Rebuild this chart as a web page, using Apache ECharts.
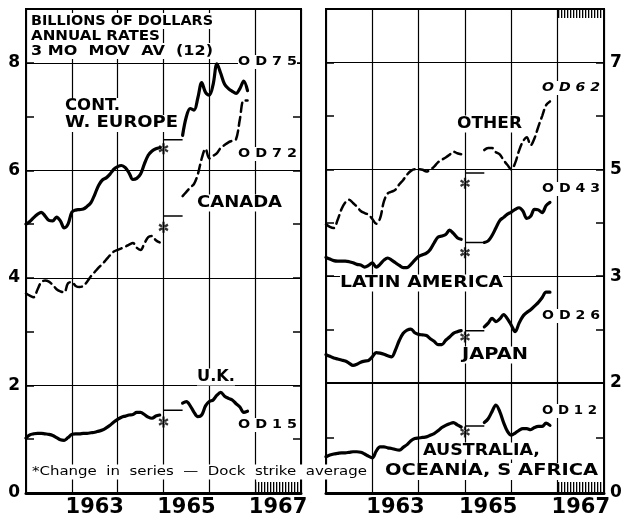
<!DOCTYPE html>
<html>
<head>
<meta charset="utf-8">
<title>Exports by area</title>
<script src="https://cdn.jsdelivr.net/npm/echarts@6/dist/echarts.min.js"></script>
<style>
  html, body { margin: 0; padding: 0; background: #fff; }
  #chart { width: 627px; height: 518px; }
</style>
</head>
<body>
<div id="chart"></div>
<script>
// billions of dollars, annual rates, 3 mo moving average
// "Pre" = monthly Jan 1962 - Dec 1964, "Post" = monthly Jun 1965 - Nov 1966
var weuropePre = [5.00, 5.05, 5.12, 5.18, 5.22, 5.15, 5.07, 5.06, 5.13, 5.06, 4.93, 5.00, 5.22, 5.26, 5.27, 5.28, 5.33, 5.40, 5.55, 5.72, 5.82, 5.86, 5.93, 6.02, 6.07, 6.09, 6.05, 5.95, 5.83, 5.85, 5.93, 6.12, 6.28, 6.36, 6.40, 6.42];
var weuropePost = [6.65, 7.00, 7.15, 7.12, 7.35, 7.63, 7.45, 7.40, 7.60, 7.98, 7.80, 7.60, 7.52, 7.47, 7.43, 7.52, 7.66, 7.48];
var canadaPre = [3.71, 3.67, 3.64, 3.78, 3.92, 3.95, 3.93, 3.87, 3.79, 3.75, 3.73, 3.90, 3.92, 3.85, 3.83, 3.85, 3.93, 4.03, 4.11, 4.19, 4.26, 4.34, 4.42, 4.49, 4.52, 4.55, 4.58, 4.62, 4.65, 4.56, 4.52, 4.64, 4.76, 4.78, 4.70, 4.66];
var canadaPost = [5.52, 5.60, 5.68, 5.75, 5.93, 6.22, 6.40, 6.22, 6.27, 6.32, 6.42, 6.47, 6.52, 6.55, 6.58, 6.95, 7.30, 7.30];
var ukPre = [1.02, 1.08, 1.10, 1.11, 1.11, 1.10, 1.09, 1.07, 1.03, 0.99, 0.98, 1.03, 1.09, 1.10, 1.10, 1.11, 1.11, 1.12, 1.13, 1.15, 1.17, 1.21, 1.26, 1.32, 1.37, 1.41, 1.43, 1.45, 1.46, 1.50, 1.50, 1.46, 1.41, 1.39, 1.43, 1.45];
var ukPost = [1.67, 1.70, 1.62, 1.50, 1.42, 1.45, 1.62, 1.70, 1.73, 1.82, 1.87, 1.80, 1.76, 1.73, 1.66, 1.60, 1.50, 1.52];
var otherPre = [3.97, 3.92, 3.90, 4.05, 4.25, 4.38, 4.43, 4.37, 4.30, 4.22, 4.18, 4.15, 4.07, 3.98, 4.08, 4.40, 4.55, 4.58, 4.62, 4.72, 4.80, 4.90, 4.97, 5.00, 5.00, 4.99, 4.96, 4.99, 5.05, 5.13, 5.18, 5.22, 5.27, 5.33, 5.30, 5.28];
var otherPost = [5.36, 5.40, 5.40, 5.32, 5.28, 5.17, 5.08, 5.00, 5.12, 5.35, 5.52, 5.60, 5.45, 5.58, 5.80, 6.00, 6.20, 6.27];
var latinPre = [3.35, 3.32, 3.29, 3.28, 3.28, 3.28, 3.27, 3.25, 3.22, 3.21, 3.17, 3.20, 3.25, 3.17, 3.22, 3.30, 3.34, 3.30, 3.25, 3.20, 3.16, 3.16, 3.22, 3.30, 3.37, 3.40, 3.43, 3.50, 3.62, 3.73, 3.75, 3.78, 3.86, 3.80, 3.72, 3.69];
var latinPost = [3.63, 3.66, 3.76, 3.90, 4.04, 4.10, 4.16, 4.20, 4.25, 4.28, 4.22, 4.08, 4.12, 4.25, 4.24, 4.19, 4.32, 4.38];
var japanPre = [1.53, 1.50, 1.47, 1.45, 1.43, 1.41, 1.37, 1.33, 1.35, 1.39, 1.41, 1.42, 1.49, 1.57, 1.56, 1.54, 1.51, 1.49, 1.62, 1.80, 1.93, 1.99, 2.01, 1.94, 1.91, 1.90, 1.89, 1.83, 1.78, 1.72, 1.72, 1.80, 1.86, 1.93, 1.96, 1.98];
var japanPost = [2.05, 2.12, 2.21, 2.15, 2.20, 2.28, 2.20, 2.08, 1.96, 2.12, 2.25, 2.32, 2.37, 2.44, 2.51, 2.60, 2.70, 2.70];
var australiaPre = [0.66, 0.69, 0.71, 0.72, 0.73, 0.73, 0.74, 0.75, 0.75, 0.74, 0.71, 0.67, 0.64, 0.76, 0.84, 0.84, 0.82, 0.81, 0.79, 0.78, 0.83, 0.88, 0.95, 0.99, 1.00, 1.01, 1.02, 1.05, 1.08, 1.13, 1.19, 1.23, 1.26, 1.28, 1.24, 1.20];
var australiaPost = [1.28, 1.35, 1.48, 1.60, 1.48, 1.28, 1.12, 1.05, 1.09, 1.14, 1.17, 1.17, 1.15, 1.19, 1.21, 1.21, 1.27, 1.23];

// order: W. Europe, Canada, U.K., Other, Latin America, Japan, Australia
var changeMarks = [6.40, 4.94, 1.32, 4.74, 3.44, 1.86, 1.11];
var strikeAvg = [6.57, 5.15, 1.54, 4.93, 3.63, 1.98, 1.22];
var strikeMonths = [0, 5]; // months after Jan 1965

var yearLabels = [1963, 1965, 1967];
var leftTicks = [0, 2, 4, 6, 8];
var rightUpperTicks = [3, 5, 7];
var rightLowerTicks = [0, 2];

var preStart = 0;   // Jan 1962
var postStart = 41; // Jun 1965

function monthly(arr, start) {
  return arr.map(function (v, i) { return [1962 + (start + i) / 12, v]; });
}

var CLEAR = 'rgba(0,0,0,0)';
var FONT = 'DejaVu Sans';

function line(name, values, start, xi, yi, dashed) {
  return {
    name: name, type: 'line', xAxisIndex: xi, yAxisIndex: yi,
    data: monthly(values, start), symbol: 'none', smooth: 0.35, z: 5,
    lineStyle: { color: '#000', width: dashed ? 2.5 : 3.2, type: dashed ? [9, 5] : 'solid', cap: 'round' }
  };
}

var STAR = 'path://M-1.1,-5L1.1,-5L1.1,5L-1.1,5Z M3.78,3.45L4.88,1.55L-3.78,-3.45L-4.88,-1.55Z M-3.78,3.45L-4.88,1.55L3.78,-3.45L4.88,-1.55Z';

var panels = [[0, 0], [0, 0], [0, 0], [1, 2], [1, 2], [1, 2], [2, 4]];
var series = [
  line('W. Europe', weuropePre, preStart, 0, 0, false),
  line('W. Europe', weuropePost, postStart, 0, 0, false),
  line('Canada', canadaPre, preStart, 0, 0, true),
  line('Canada', canadaPost, postStart, 0, 0, true),
  line('U.K.', ukPre, preStart, 0, 0, false),
  line('U.K.', ukPost, postStart, 0, 0, false),
  line('Other', otherPre, preStart, 1, 2, true),
  line('Other', otherPost, postStart, 1, 2, true),
  line('Latin America', latinPre, preStart, 1, 2, false),
  line('Latin America', latinPost, postStart, 1, 2, false),
  line('Japan', japanPre, preStart, 1, 2, false),
  line('Japan', japanPost, postStart, 1, 2, false),
  line('Australia', australiaPre, preStart, 2, 4, false),
  line('Australia', australiaPost, postStart, 2, 4, false)
];

// change in series marks and dock strike averages
panels.forEach(function (p, i) {
  series.push({
    type: 'scatter', xAxisIndex: p[0], yAxisIndex: p[1], z: 6,
    data: [[1965, changeMarks[i]]], symbol: STAR, symbolSize: [10, 11],
    itemStyle: { color: '#000' }
  });
  series.push({
    type: 'line', xAxisIndex: p[0], yAxisIndex: p[1], z: 6, symbol: 'none',
    data: strikeMonths.map(function (m) { return [1965 + m / 12, strikeAvg[i]]; }),
    lineStyle: { color: '#000', width: 1.5 }
  });
});

function xAx(g, labels) {
  return {
    gridIndex: g, type: 'value', min: 1962, max: 1968, interval: 0.5,
    axisLine: { show: labels, onZero: false, lineStyle: { color: '#000', width: 3 } },
    axisTick: { show: false },
    axisLabel: {
      show: labels, margin: 4, fontFamily: FONT, fontWeight: 'bold', fontSize: 21, color: '#000',
      formatter: function (v) {
        var y = Math.floor(v);
        return (Math.abs(v - y - 0.5) < 1e-6 && yearLabels.indexOf(y) >= 0) ? String(y) : '';
      }
    },
    splitLine: { show: true, lineStyle: { color: ['#000', CLEAR], width: 1.2 } }
  };
}

function yAx(g, pos, min, max, ticks, grid) {
  return {
    gridIndex: g, type: 'value', position: pos, min: min, max: max, interval: 1,
    axisLine: { show: false },
    axisTick: { show: true, inside: true, length: 8, lineStyle: { color: '#000', width: 1.5 } },
    axisLabel: {
      show: !!ticks, margin: 6, fontFamily: FONT, fontWeight: 'bold', fontSize: 17, color: '#000',
      formatter: function (v) { return ticks && ticks.indexOf(v) >= 0 ? String(v) : ''; }
    },
    splitLine: { show: grid, lineStyle: { color: ['#000', CLEAR], width: 1.2 } }
  };
}

// hatched blocks
var hatch = document.createElement('canvas');
hatch.width = 3; hatch.height = 12;
var hc = hatch.getContext('2d');
hc.fillStyle = '#000';
hc.fillRect(0, 0, 1.3, 12);

function hatchBox(x, y, w, h) {
  return { type: 'rect', z: 50, shape: { x: x, y: y, width: w, height: h }, style: { fill: { image: hatch, repeat: 'repeat' } } };
}

var measure = document.createElement('canvas').getContext('2d');
function label(text, x, y, w, size, opt) {
  opt = opt || {};
  var font = (opt.italic ? 'italic ' : '') + (opt.weight || 'bold') + ' ' + size + 'px "' + FONT + '"';
  measure.font = font;
  var sx = w ? w / measure.measureText(text).width : 1;
  return {
    type: 'text', x: x, y: y, scaleX: sx, z: 100,
    style: { text: text, font: font, fill: '#000', align: 'left', verticalAlign: 'middle', backgroundColor: '#fff', padding: [1, 0] }
  };
}

var texts = [
  label('BILLIONS OF DOLLARS', 31, 21, 182, 14),
  label('ANNUAL RATES', 31, 36.5, 129, 14),
  label('3 MO  MOV  AV  (12)', 31, 51, 182, 14),
  label('CONT.', 65, 106.5, 55, 15),
  label('W. EUROPE', 65, 123.5, 113, 15),
  label('CANADA', 197, 203, 85, 15),
  label('O D 7 5', 238, 62, 59, 12),
  label('O D 7 2', 238, 154, 59, 12),
  label('U.K.', 197, 377, 38, 15),
  label('O D 1 5', 238, 425, 59, 12),
  label('*Change  in  series  —  Dock  strike  average', 32, 472, 335, 13, { weight: 'normal' }),
  label('OTHER', 457, 124, 65, 15),
  label('O D 6 2', 542, 88, 58, 12, { italic: true }),
  label('O D 4 3', 542, 189, 58, 12),
  label('LATIN AMERICA', 340, 283, 163, 15),
  label('O D 2 6', 542, 316, 58, 12),
  label('JAPAN', 462, 355, 66, 15),
  label('O D 1 2', 542, 411, 55, 12),
  label('AUSTRALIA,', 423, 451, 117, 15),
  label('OCEANIA, S AFRICA', 385, 471.5, 213, 15),
  hatchBox(255, 482, 46, 10),
  hatchBox(558, 482, 45, 10),
  hatchBox(558, 10, 45, 8)
];

var myChart = echarts.init(document.getElementById('chart'));
var option = {
  animation: false,
  backgroundColor: '#fff',
  grid: [
    { left: 26, top: 9, width: 275, height: 484, show: true, borderColor: '#000', borderWidth: 2, outerBoundsMode: 'none' },
    { left: 326, top: 9, width: 278, height: 374, show: true, borderColor: '#000', borderWidth: 2, outerBoundsMode: 'none' },
    { left: 326, top: 383, width: 278, height: 110, show: true, borderColor: '#000', borderWidth: 2, outerBoundsMode: 'none' }
  ],
  xAxis: [xAx(0, true), xAx(1, false), xAx(2, true)],
  yAxis: [
    yAx(0, 'left', 0, 9, leftTicks, true),
    yAx(0, 'right', 0, 9, null, false),
    yAx(1, 'left', 1, 8, null, true),
    yAx(1, 'right', 1, 8, rightUpperTicks, false),
    yAx(2, 'left', 0, 2, null, true),
    yAx(2, 'right', 0, 2, rightLowerTicks, false)
  ],
  series: series,
  graphic: { elements: texts }
};
myChart.setOption(option);
</script>
</body>
</html>
